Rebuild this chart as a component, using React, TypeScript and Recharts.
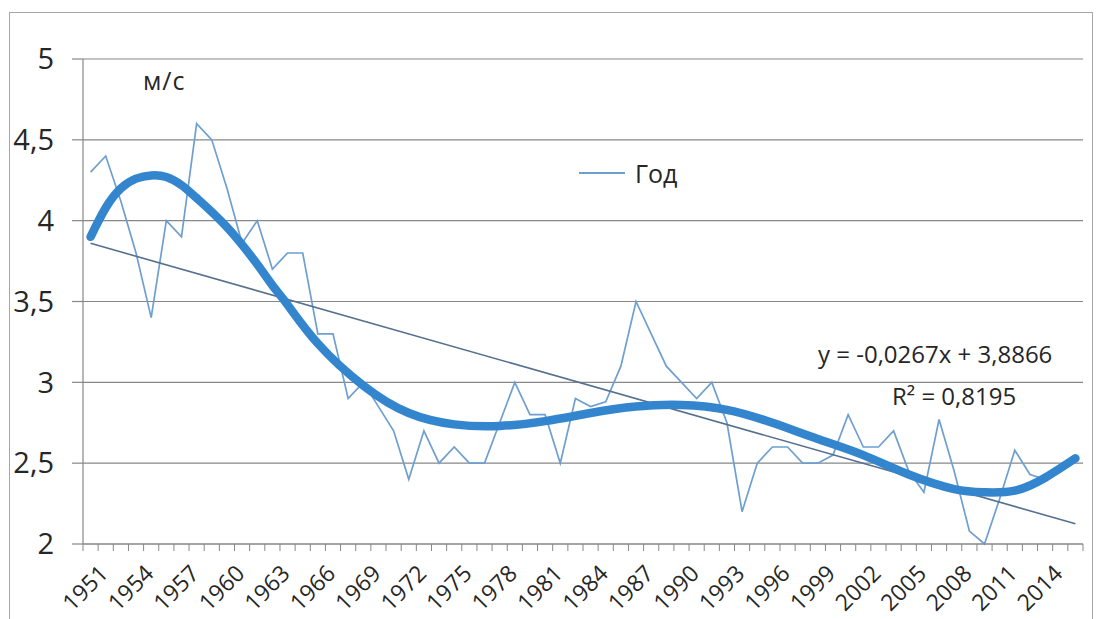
import React from 'react';
import { ComposedChart, Line, XAxis, YAxis, CartesianGrid } from 'recharts';

const years = [
  1951, 1952, 1953, 1954, 1955, 1956, 1957, 1958, 1959, 1960,
  1961, 1962, 1963, 1964, 1965, 1966, 1967, 1968, 1969, 1970,
  1971, 1972, 1973, 1974, 1975, 1976, 1977, 1978, 1979, 1980,
  1981, 1982, 1983, 1984, 1985, 1986, 1987, 1988, 1989, 1990,
  1991, 1992, 1993, 1994, 1995, 1996, 1997, 1998, 1999, 2000,
  2001, 2002, 2003, 2004, 2005, 2006, 2007, 2008, 2009, 2010,
  2011, 2012, 2013, 2014, 2015, 2016,
];

// Годовая средняя скорость ветра, м/с
const windSpeed = [
  4.30, 4.40, 4.12, 3.80, 3.40, 4.00, 3.90, 4.60, 4.50, 4.20,
  3.86, 4.00, 3.70, 3.80, 3.80, 3.30, 3.30, 2.90, 3.00, 2.85,
  2.70, 2.40, 2.70, 2.50, 2.60, 2.50, 2.50, 2.75, 3.00, 2.80,
  2.80, 2.50, 2.90, 2.85, 2.88, 3.10, 3.50, 3.30, 3.10, 3.00,
  2.90, 3.00, 2.75, 2.20, 2.50, 2.60, 2.60, 2.50, 2.50, 2.55,
  2.80, 2.60, 2.60, 2.70, 2.45, 2.32, 2.77, 2.45, 2.08, 2.00,
  2.28, 2.58, 2.43, 2.40, 2.45, 2.53,
];

// Полиномиальная линия тренда
const polyYears = [
  1951, 1952, 1953, 1954, 1955, 1956, 1957, 1958, 1960, 1962,
  1963, 1964, 1966, 1969, 1972, 1975, 1978, 1981, 1984, 1987,
  1990, 1993, 1996, 1999, 2002, 2005, 2008, 2010, 2012, 2014, 2016,
];
const polyValues = [
  3.90, 4.08, 4.20, 4.26, 4.28, 4.27, 4.22, 4.14, 3.96, 3.73,
  3.60, 3.48, 3.24, 2.98, 2.81, 2.74, 2.73, 2.76, 2.81, 2.85,
  2.86, 2.83, 2.75, 2.65, 2.55, 2.43, 2.34, 2.32, 2.33, 2.41, 2.53,
];

// Линейный тренд: конечные точки
const linearYears = [1951, 2016];
const linearValues = [3.86, 2.125];

const yTicks = [2, 2.5, 3, 3.5, 4, 4.5, 5];

const data = years.map((y, i) => {
  const pi = polyYears.indexOf(y);
  const li = linearYears.indexOf(y);
  return {
    year: String(y),
    speed: windSpeed[i],
    poly: pi >= 0 ? polyValues[pi] : null,
    linear: li >= 0 ? linearValues[li] : null,
  };
});

const FONT = "'Open Sans', 'Noto Sans', sans-serif";
const GRID = '#878787';
const TEXT = '#262626';
const DATA_COLOR = '#6E9FD0';
const PLOT_LEFT = 83;
const PLOT_RIGHT = 1083;
const BAND = (PLOT_RIGHT - PLOT_LEFT) / years.length;

const XTick = (props: any) => {
  const { x, y, payload, index } = props;
  const year = Number(payload.value);
  const left = x - BAND / 2;
  const showLabel = (year - years[0]) % 3 === 0;
  const lx = x + 19;
  const ly = y + 31;
  return (
    <g>
      <line x1={left} y1={y} x2={left} y2={y + 7} stroke={GRID} strokeWidth={1} />
      {index === years.length - 1 && (
        <line x1={x + BAND / 2} y1={y} x2={x + BAND / 2} y2={y + 7} stroke={GRID} strokeWidth={1} />
      )}
      {showLabel && (
        <text
          x={lx}
          y={ly}
          textAnchor="end"
          transform={`rotate(-45 ${lx} ${ly})`}
          fontSize={23}
          fontFamily={FONT}
          fill={TEXT}
        >
          {year}
        </text>
      )}
    </g>
  );
};

export default function App() {
  return (
    <div style={{ position: 'absolute', left: 0, top: 0, width: 1106, height: 619, background: '#fff', overflow: 'hidden' }}>
      <div
        style={{
          position: 'absolute',
          left: 9,
          top: 12,
          width: 1084,
          height: 640,
          border: '1.5px solid #a6a6a6',
          boxSizing: 'border-box',
        }}
      />
      <ComposedChart
        width={1106}
        height={619}
        data={data}
        margin={{ top: 59, right: 1106 - PLOT_RIGHT, bottom: 0, left: 0 }}
        style={{ position: 'absolute', left: 0, top: 0 }}
      >
        <CartesianGrid vertical={false} stroke={GRID} strokeWidth={1.2} />
        <XAxis
          dataKey="year"
          scale="band"
          interval={0}
          height={75}
          tickLine={false}
          tickSize={0}
          tickMargin={0}
          axisLine={{ stroke: GRID, strokeWidth: 1.2 }}
          tick={<XTick />}
        />
        <YAxis
          type="number"
          domain={[2, 5]}
          ticks={yTicks}
          width={PLOT_LEFT}
          tickSize={11}
          tickMargin={18}
          tickLine={{ stroke: GRID, strokeWidth: 1.2 }}
          axisLine={{ stroke: GRID, strokeWidth: 1.2 }}
          tickFormatter={(v: number) => String(v).replace('.', ',')}
          tick={{ fontSize: 29, fontFamily: FONT, fill: TEXT }}
        />
        <Line
          dataKey="speed"
          name="Год"
          type="linear"
          stroke={DATA_COLOR}
          strokeWidth={1.7}
          dot={false}
          isAnimationActive={false}
        />
        <Line
          dataKey="linear"
          type="linear"
          stroke="#56708F"
          strokeWidth={1.6}
          dot={false}
          connectNulls
          legendType="none"
          isAnimationActive={false}
        />
        <Line
          dataKey="poly"
          type="natural"
          stroke="#3386CE"
          strokeWidth={8.5}
          strokeLinecap="round"
          dot={false}
          connectNulls
          legendType="none"
          isAnimationActive={false}
        />
      </ComposedChart>
      <svg width={1106} height={619} style={{ position: 'absolute', left: 0, top: 0, pointerEvents: 'none' }}>
        <text x={143} y={80} dominantBaseline="central" fontSize={25} letterSpacing={1} fontFamily={FONT} fill={TEXT}>
          м/с
        </text>
        <g>
          <line x1={579} y1={173} x2={625} y2={173} stroke={DATA_COLOR} strokeWidth={1.8} />
          <text x={635} y={173} dominantBaseline="central" fontSize={25} fontFamily={FONT} fill={TEXT}>
            Год
          </text>
        </g>
        <text x={818} y={353} dominantBaseline="central" fontSize={24} fontFamily={FONT} fill={TEXT}>
          y = -0,0267x + 3,8866
        </text>
        <text x={892} y={395} dominantBaseline="central" fontSize={24} fontFamily={FONT} fill={TEXT}>
          R² = 0,8195
        </text>
      </svg>
    </div>
  );
}
